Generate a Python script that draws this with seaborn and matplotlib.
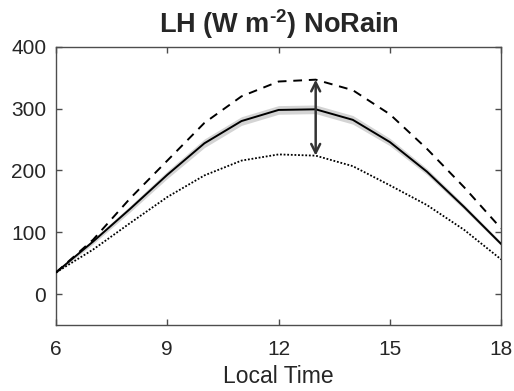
import numpy as np
import pandas as pd
import matplotlib
matplotlib.use("Agg")
import matplotlib.pyplot as plt
import seaborn as sns

hours = [6, 7, 8, 9, 10, 11, 12, 13, 14, 15, 16, 17, 18]
upper = [35, 88, 155, 216, 277, 320, 344, 347, 330, 291, 235, 173, 106]
mean = [35, 85, 138, 193, 244, 280, 298, 299, 282, 246, 198, 141, 81]
lower = [35, 72, 115, 157, 192, 216, 226, 224, 207, 176, 144, 104, 56]
spread = [2, 4, 5, 6, 7, 7, 7, 7, 7, 6, 5, 4, 3]
arrow_hour = 13

sns.set_style("ticks")
plt.rcParams["font.family"] = ["Liberation Sans", "DejaVu Sans"]
plt.rcParams["mathtext.fontset"] = "custom"
plt.rcParams["mathtext.rm"] = "Liberation Sans:bold"
plt.rcParams["mathtext.bf"] = "Liberation Sans:bold"

fig = plt.figure(figsize=(5.14, 3.91), dpi=100)
ax = fig.add_axes([0.109, 0.169, 0.866, 0.711])

df = pd.DataFrame({"hour": hours, "upper": upper, "mean": mean, "lower": lower})
m = np.array(mean)
s = np.array(spread)
ax.fill_between(hours, m - s, m + s, color="#d4d4d4", linewidth=0, zorder=1)
sns.lineplot(data=df, x="hour", y="upper", ax=ax, color="black", linestyle=(0, (4.5, 3.5)), linewidth=1.4, zorder=3)
sns.lineplot(data=df, x="hour", y="mean", ax=ax, color="black", linewidth=1.4, zorder=3)
sns.lineplot(data=df, x="hour", y="lower", ax=ax, color="black", linestyle=(0, (1, 1)), linewidth=1.3, zorder=3)

i = hours.index(arrow_hour)
ax.annotate("", xy=(arrow_hour, upper[i]), xytext=(arrow_hour, lower[i]),
            arrowprops=dict(arrowstyle="<->", color="#333333", lw=1.8, mutation_scale=16,
                            shrinkA=0, shrinkB=0), zorder=4)

ax.set_xlim(6, 18)
ax.set_ylim(-50, 400)
ax.set_xticks([6, 9, 12, 15, 18])
ax.set_yticks([0, 100, 200, 300, 400])
ax.set_xlabel("Local Time", fontsize=16.5, color="#262626", labelpad=4)
ax.set_ylabel("")
ax.set_title(r"LH (W m$^{\text{-2}}$) NoRain", fontsize=19.5, fontweight="bold", pad=10)
ax.tick_params(direction="in", top=True, right=True, length=4, width=1, color="#4d4d4d",
               labelsize=15, labelcolor="#262626")
ax.tick_params(axis="x", pad=11)
ax.tick_params(axis="y", pad=7)
for sp in ax.spines.values():
    sp.set_visible(True)
    sp.set_color("#4d4d4d")
    sp.set_linewidth(1)

fig.savefig("out.png", dpi=100)
